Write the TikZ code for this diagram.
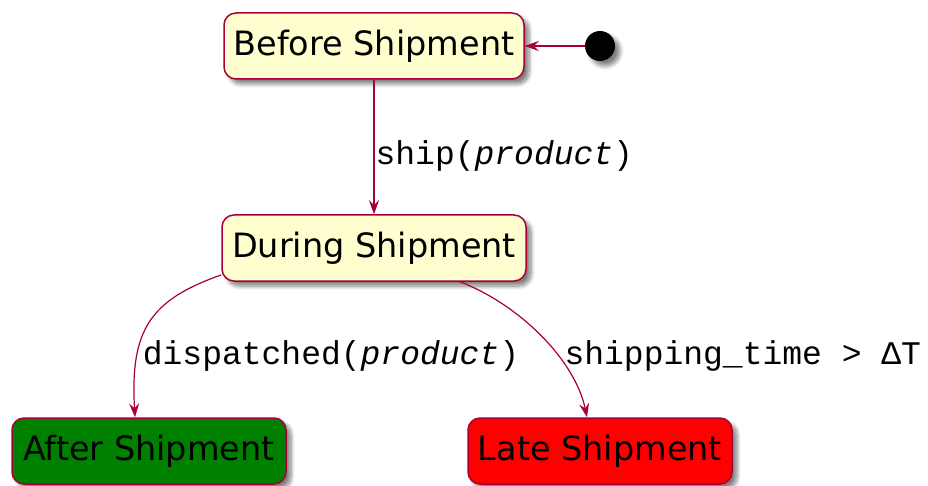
\documentclass[tikz,border=0pt]{standalone}
\usepackage{fontspec}
\setmainfont{DejaVu Sans}
\newfontfamily\labelmono{Liberation Mono}
\usetikzlibrary{arrows.meta,shadows.blur}
\definecolor{umlred}{HTML}{A80036}
\definecolor{umlfill}{HTML}{FEFECE}
\definecolor{umlgreen}{HTML}{008000}
\definecolor{umlredfill}{HTML}{FF0000}
\begin{document}
\begin{tikzpicture}[x=1pt,y=-1pt,
  umlshadow/.style={blur shadow={shadow xshift=5pt, shadow yshift=-5pt, shadow blur steps=8, shadow blur radius=4pt, shadow opacity=50}},
  statebox/.style={draw=umlred, line width=1.5pt, rounded corners=12pt, fill=umlfill,
    minimum height=66pt, inner sep=0pt, text=black, font=\fontsize{33.5}{40}\selectfont, umlshadow},
  conn/.style={draw=umlred, line width=1.2pt, -{Stealth[length=14pt,width=10pt,inset=5pt]}},
  lbl/.style={font=\labelmono\fontsize{33}{38}\selectfont, inner sep=0pt, text=black}]
\useasboundingbox (0,0) rectangle (928,486);
\node[statebox, minimum width=300pt] (before) at (374,46) {Before Shipment};
\node[statebox, minimum width=304pt] (during) at (374,248) {During Shipment};
\node[statebox, minimum width=274pt, fill=umlgreen] (after) at (149,451) {After Shipment};
\node[statebox, minimum width=264pt, fill=umlredfill] (late) at (600,451) {Late Shipment};
\node[circle, fill=black, minimum size=30pt, inner sep=0pt, umlshadow] (init) at (600,46) {};
\draw[conn] (init.west) -- (before.east);
\draw[conn] (before.south) -- (during.north)
  node[lbl, pos=0.57, anchor=west, xshift=1pt] (lblA) {ship(\textit{product})};
\draw[conn] (during.190) .. controls (150,300) and (130,330) .. ([xshift=-14pt]after.north)
  node[lbl, pos=0.72, anchor=west, xshift=5pt] (lblB) {dispatched(\textit{product})};
\draw[conn] ([xshift=86pt]during.south) .. controls (520,305) and (575,360) .. ([xshift=-13pt]late.north)
  node[lbl, pos=0.63, anchor=west, xshift=6pt] (lblC) {shipping\_time > ΔT};
\end{tikzpicture}
\end{document}
